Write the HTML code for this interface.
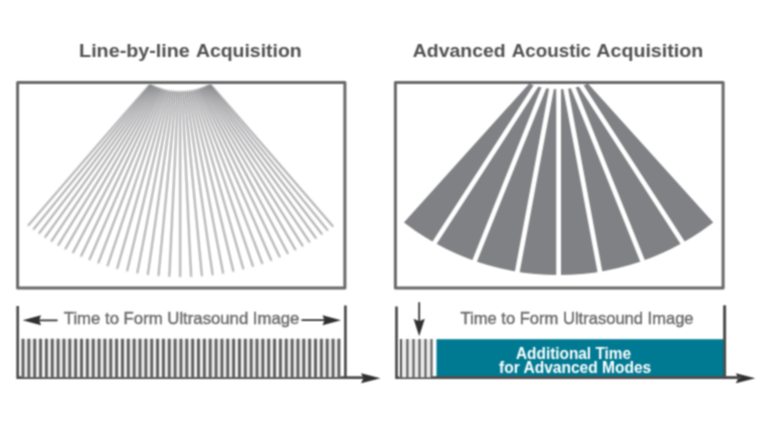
<!DOCTYPE html>
<html><head><meta charset="utf-8"><title>Acquisition</title>
<style>
html,body{margin:0;padding:0;background:#fff;}
body{width:762px;height:429px;overflow:hidden;font-family:"Liberation Sans",sans-serif;}
svg{display:block;}
text{font-family:"Liberation Sans",sans-serif;}
</style></head><body>
<svg width="762" height="429" viewBox="0 0 762 429">
<rect x="-5" y="-5" width="772" height="439" fill="#fff"/>
<defs>
<filter id="bl" filterUnits="userSpaceOnUse" x="0" y="0" width="762" height="429" color-interpolation-filters="sRGB"><feConvolveMatrix order="7" kernelMatrix="0.00000 0.00000 0.00000 0.00001 0.00000 0.00000 0.00000 0.00000 0.00013 0.00284 0.00543 0.00284 0.00013 0.00000 0.00000 0.00284 0.06249 0.11930 0.06249 0.00284 0.00000 0.00001 0.00543 0.11930 0.22777 0.11930 0.00543 0.00001 0.00000 0.00284 0.06249 0.11930 0.06249 0.00284 0.00000 0.00000 0.00013 0.00284 0.00543 0.00284 0.00013 0.00000 0.00000 0.00000 0.00000 0.00001 0.00000 0.00000 0.00000" divisor="1" edgeMode="duplicate" preserveAlpha="false"/></filter>
<filter id="blf" filterUnits="userSpaceOnUse" x="0" y="0" width="762" height="429" color-interpolation-filters="sRGB"><feConvolveMatrix order="7" kernelMatrix="0.00000 0.00003 0.00018 0.00023 0.00018 0.00003 0.00000 0.00003 0.00242 0.01345 0.01735 0.01345 0.00242 0.00003 0.00018 0.01345 0.07488 0.09663 0.07488 0.01345 0.00018 0.00023 0.01735 0.09663 0.12470 0.09663 0.01735 0.00023 0.00018 0.01345 0.07488 0.09663 0.07488 0.01345 0.00018 0.00003 0.00242 0.01345 0.01735 0.01345 0.00242 0.00003 0.00000 0.00003 0.00018 0.00023 0.00018 0.00003 0.00000" divisor="1" edgeMode="duplicate" preserveAlpha="false"/></filter>
<mask id="ml" maskUnits="userSpaceOnUse" x="0" y="0" width="762" height="429"><rect width="762" height="429" fill="#000"/><ellipse cx="181.2" cy="49.4" rx="242.6" ry="227.6" fill="#fff"/><circle cx="180.2" cy="27.6" r="63.7" fill="#000"/><rect x="0" y="0" width="762" height="83.25" fill="#000"/></mask>
<mask id="mr" maskUnits="userSpaceOnUse" x="0" y="0" width="762" height="429"><rect width="762" height="429" fill="#000"/><ellipse cx="558.6" cy="51.0" rx="240.0" ry="224.0" fill="#fff"/><circle cx="558.6" cy="9.3" r="80.0" fill="#000"/><rect x="0" y="0" width="762" height="83.25" fill="#000"/></mask>
</defs>
<g filter="url(#blf)"><g mask="url(#ml)" stroke="#808184" stroke-width="1.3" fill="none">
<path d="M180.20 49.40L-78.78 349.40M180.20 49.40L-64.40 349.40M180.20 49.40L-50.01 349.40M180.20 49.40L-35.62 349.40M180.20 49.40L-21.23 349.40M180.20 49.40L-6.84 349.40M180.20 49.40L7.54 349.40M180.20 49.40L21.93 349.40M180.20 49.40L36.32 349.40M180.20 49.40L50.71 349.40M180.20 49.40L65.10 349.40M180.20 49.40L79.48 349.40M180.20 49.40L93.87 349.40M180.20 49.40L108.26 349.40M180.20 49.40L122.65 349.40M180.20 49.40L137.04 349.40M180.20 49.40L151.42 349.40M180.20 49.40L165.81 349.40M180.20 49.40L180.20 349.40M180.20 49.40L194.59 349.40M180.20 49.40L208.98 349.40M180.20 49.40L223.36 349.40M180.20 49.40L237.75 349.40M180.20 49.40L252.14 349.40M180.20 49.40L266.53 349.40M180.20 49.40L280.92 349.40M180.20 49.40L295.30 349.40M180.20 49.40L309.69 349.40M180.20 49.40L324.08 349.40M180.20 49.40L338.47 349.40M180.20 49.40L352.86 349.40M180.20 49.40L367.24 349.40M180.20 49.40L381.63 349.40M180.20 49.40L396.02 349.40M180.20 49.40L410.41 349.40M180.20 49.40L424.80 349.40M180.20 49.40L439.18 349.40"/>
</g></g>
<g filter="url(#bl)">
<g mask="url(#mr)">
<path d="M558.6 51.0L288.00 351.0L829.20 351.0Z" fill="#808184"/>
<path d="M558.60 51.00L558.60 351.00M558.60 51.00L502.46 351.00M558.60 51.00L614.74 351.00M558.60 51.00L438.61 351.00M558.60 51.00L678.59 351.00M558.60 51.00L364.52 351.00M558.60 51.00L752.68 351.00" stroke="#fff" stroke-width="4.8" fill="none"/>
</g>
<rect x="17.6" y="82.45" width="327.30" height="205.55" fill="none" stroke="#696969" stroke-width="3.0" stroke-linejoin="round"/>
<rect x="395.4" y="82.45" width="327.70" height="205.55" fill="none" stroke="#696969" stroke-width="3.0" stroke-linejoin="round"/>
<text x="79.1" y="57.4" font-size="17.6" font-weight="700" fill="#505050" textLength="110.7" lengthAdjust="spacingAndGlyphs">Line-by-line</text>
<text x="195.9" y="57.4" font-size="17.6" font-weight="700" fill="#505050" textLength="105.8" lengthAdjust="spacingAndGlyphs">Acquisition</text>
<text x="412.8" y="57.4" font-size="17.6" font-weight="700" fill="#505050" textLength="92.8" lengthAdjust="spacingAndGlyphs">Advanced</text>
<text x="511.7" y="57.4" font-size="17.6" font-weight="700" fill="#505050" textLength="79.4" lengthAdjust="spacingAndGlyphs">Acoustic</text>
<text x="596.3" y="57.4" font-size="17.6" font-weight="700" fill="#505050" textLength="106.9" lengthAdjust="spacingAndGlyphs">Acquisition</text>
<g stroke="#4c4c4c" stroke-width="2.7" fill="none" stroke-linecap="butt">
<path d="M17.7 306V379.05M345.4 305.5V379.05M16.55 377.7H366"/>
<path d="M396.5 306.5V379.05M724.7 305.5V379.05M395.35 377.7H741"/>
</g>
<path d="M380.5 378.2L361.0 373.2L363.5 378.2L361.0 383.2Z" fill="#303030"/>
<path d="M755.3 378.2L735.8 373.2L738.3 378.2L735.8 383.2Z" fill="#303030"/>
<rect x="21.5" y="339.2" width="319" height="38" fill="#f0f0f0"/>
<path d="M23.00 338.8V377.7M28.85 338.8V377.7M34.70 338.8V377.7M40.55 338.8V377.7M46.40 338.8V377.7M52.25 338.8V377.7M58.10 338.8V377.7M63.95 338.8V377.7M69.80 338.8V377.7M75.65 338.8V377.7M81.50 338.8V377.7M87.35 338.8V377.7M93.20 338.8V377.7M99.05 338.8V377.7M104.90 338.8V377.7M110.75 338.8V377.7M116.60 338.8V377.7M122.45 338.8V377.7M128.30 338.8V377.7M134.15 338.8V377.7M140.00 338.8V377.7M145.85 338.8V377.7M151.70 338.8V377.7M157.55 338.8V377.7M163.40 338.8V377.7M169.25 338.8V377.7M175.10 338.8V377.7M180.95 338.8V377.7M186.80 338.8V377.7M192.65 338.8V377.7M198.50 338.8V377.7M204.35 338.8V377.7M210.20 338.8V377.7M216.05 338.8V377.7M221.90 338.8V377.7M227.75 338.8V377.7M233.60 338.8V377.7M239.45 338.8V377.7M245.30 338.8V377.7M251.15 338.8V377.7M257.00 338.8V377.7M262.85 338.8V377.7M268.70 338.8V377.7M274.55 338.8V377.7M280.40 338.8V377.7M286.25 338.8V377.7M292.10 338.8V377.7M297.95 338.8V377.7M303.80 338.8V377.7M309.65 338.8V377.7M315.50 338.8V377.7M321.35 338.8V377.7M327.20 338.8V377.7M333.05 338.8V377.7M338.90 338.8V377.7" stroke="#606060" stroke-width="2.9" fill="none"/>
<rect x="399" y="339.4" width="33" height="38" fill="#ececec"/>
<path d="M401.00 339V377.7M407.40 339V377.7M413.50 339V377.7M419.50 339V377.7M425.50 339V377.7M431.50 339V377.7" stroke="#555" stroke-width="2.0" fill="none"/>
<rect x="436.5" y="339.2" width="288.0" height="37.20" fill="#007a92"/>
<path d="M436 377.7H741" stroke="#4c4c4c" stroke-width="2.7"/>
<path d="M724.7 305.5V379.05" stroke="#4c4c4c" stroke-width="2.7"/>
<path d="M36 320.3H57.6M301.5 320.2H326" stroke="#333" stroke-width="1.8" fill="none"/>
<path d="M22.6 320.3L41.1 315.3L39.1 320.3L41.1 325.3Z" fill="#303030"/>
<path d="M341.0 320.2L322.5 315.2L324.5 320.2L322.5 325.2Z" fill="#303030"/>
<path d="M419.2 302.2V322" stroke="#333" stroke-width="1.8" fill="none"/>
<path d="M419.2 336.2L413.59999999999997 318.7L419.2 321.2L424.8 318.7Z" fill="#303030"/>
<text x="63.8" y="323.8" font-size="16.5" fill="#6c6c6c" stroke="#6c6c6c" stroke-width="0.4" textLength="235.6" lengthAdjust="spacingAndGlyphs">Time to Form Ultrasound Image</text>
<text x="460.6" y="323.6" font-size="16.5" fill="#686868" stroke="#686868" stroke-width="0.35" textLength="233.0" lengthAdjust="spacingAndGlyphs">Time to Form Ultrasound Image</text>
<text x="516.0" y="358.6" font-size="17.4" font-weight="700" fill="#fff" textLength="115.0" lengthAdjust="spacingAndGlyphs">Additional Time</text>
<text x="499.0" y="372.7" font-size="17.4" font-weight="700" fill="#fff" textLength="152.2" lengthAdjust="spacingAndGlyphs">for Advanced Modes</text>
</g></svg></body></html>
